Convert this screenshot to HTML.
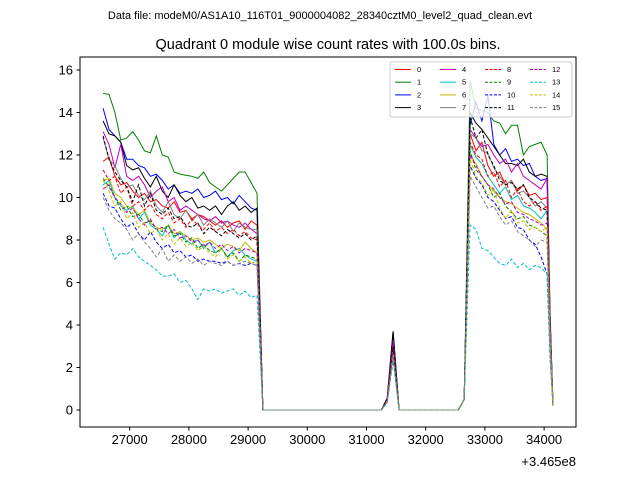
<!DOCTYPE html>
<html><head><meta charset="utf-8"><style>
body{margin:0;background:#fff;}
svg text{font-family:"Liberation Sans","DejaVu Sans",sans-serif;}
</style></head><body>
<svg id="chart" width="640" height="480" viewBox="0 0 640 480" xmlns="http://www.w3.org/2000/svg">
<rect width="640" height="480" fill="#fff"/>
<text x="320" y="19" font-size="11" text-anchor="middle">Data file: modeM0/AS1A10_116T01_9000004082_28340cztM0_level2_quad_clean.evt</text>
<text x="328" y="49" font-size="14.5" text-anchor="middle">Quadrant 0 module wise count rates with 100.0s bins.</text>
<g id="series"></g>
<g id="axes"></g>
<rect x="80" y="57" width="496" height="370" fill="none" stroke="#000" stroke-width="1"/>
<text x="576" y="466" font-size="13" text-anchor="end">+3.465e8</text>
<g id="legend"></g>
</svg>
<script>
const xTicks = [27000,28000,29000,30000,31000,32000,33000,34000];
const yTicks = [0,2,4,6,8,10,12,14,16];
const seg1Start = 26550, seg2Start = 32750, step = 100;
const seg1 = [
[11.7,11.9,11.0,10.6,10.7,10.3,10.0,10.2,9.8,9.9,9.6,9.5,9.8,9.3,9.4,9.0,9.2,9.1,8.9,8.7,8.9,8.6,8.8,8.9,8.5,8.9,8.7],
[14.9,14.85,14.0,12.7,12.8,13.1,12.7,12.2,12.1,12.9,12.0,11.9,11.2,11.1,11.05,11.0,10.9,11.2,10.7,10.5,10.3,10.6,10.9,11.2,11.2,10.7,10.2],
[14.2,13.2,12.9,12.6,11.8,11.8,11.5,11.4,11.0,11.1,10.8,10.4,10.6,10.2,10.3,10.2,10.4,10.0,10.1,10.3,9.9,10.0,9.7,10.1,9.8,9.5,9.4],
[13.6,13.0,12.9,12.6,11.5,11.3,11.4,10.9,10.5,11.0,10.3,10.0,10.6,10.1,9.8,10.0,9.5,9.6,9.4,9.6,9.2,9.6,9.8,9.4,9.6,9.3,9.5],
[13.1,12.5,11.4,12.5,11.0,10.8,11.0,10.6,10.0,10.3,10.5,9.8,10.0,9.4,9.6,9.4,9.2,9.0,8.9,9.1,8.8,8.9,8.7,8.6,8.8,8.5,8.3],
[10.6,10.8,10.0,9.6,9.4,9.6,9.0,9.3,8.7,8.5,8.2,8.7,8.1,8.4,8.0,7.8,8.0,7.6,7.9,7.4,7.6,7.2,7.5,7.6,7.3,7.1,7.0],
[10.8,10.9,10.2,10.0,9.6,9.5,9.2,9.4,8.8,8.6,8.5,8.7,8.3,8.4,8.2,8.0,8.1,7.9,8.0,7.8,7.6,7.8,7.7,7.5,7.9,7.6,7.4],
[12.8,11.8,11.5,10.9,10.5,10.6,10.1,9.9,10.3,9.6,9.3,9.8,9.2,9.0,9.4,8.9,9.2,8.7,9.0,8.8,8.6,8.9,8.4,8.8,8.6,8.5,8.5],
[11.3,10.8,11.0,10.2,10.5,9.6,9.8,9.4,9.7,9.2,9.0,9.3,8.8,9.0,8.6,9.0,8.7,8.5,8.8,8.4,8.6,8.3,8.5,8.2,8.4,8.1,8.0],
[10.9,10.5,10.0,9.4,9.6,9.1,9.2,8.8,8.9,8.5,8.4,8.7,8.2,8.3,7.9,8.1,7.6,7.8,7.5,7.4,7.6,7.2,7.4,7.0,7.3,7.2,7.1],
[10.2,9.6,9.5,9.0,8.6,8.8,8.3,8.0,8.4,7.9,7.6,7.8,7.4,7.5,7.2,7.3,7.0,7.1,7.0,7.0,6.9,7.0,6.8,6.9,6.8,6.9,6.8],
[12.9,11.8,11.2,10.8,10.5,9.8,10.6,9.6,10.2,9.4,9.2,9.5,9.0,9.1,8.7,8.6,8.8,8.3,8.6,8.4,8.2,8.5,8.3,8.1,8.3,8.0,8.2],
[10.4,10.6,10.0,9.7,9.3,9.5,9.0,8.7,9.0,8.5,8.6,8.3,8.5,8.1,8.2,7.9,8.0,7.7,7.9,7.6,7.8,7.5,7.7,7.4,7.6,7.5,7.4],
[8.6,7.8,7.1,7.4,7.3,7.6,7.2,7.0,6.8,6.6,6.3,6.3,6.4,6.0,6.1,5.7,5.2,5.7,5.6,5.7,5.5,5.6,5.7,5.4,5.6,5.3,5.4],
[10.8,10.3,9.6,9.8,9.0,9.3,8.6,8.8,8.3,8.5,8.0,8.3,7.8,8.1,7.7,7.9,7.5,7.7,7.4,7.2,7.6,7.1,7.3,7.0,7.2,6.9,7.0],
[10.0,9.4,9.0,8.8,8.5,8.0,8.3,7.9,7.6,7.2,7.6,7.0,7.3,7.0,7.2,6.9,7.1,6.8,7.0,6.9,6.8,7.0,6.8,6.9,7.0,6.9,6.8]
];
const peaks = [3.0,2.8,3.7,3.7,3.2,2.6,2.8,3.0,3.0,2.8,2.6,3.0,2.7,2.3,2.6,2.5];
const seg2 = [
[13.0,12.2,12.6,11.5,11.0,11.2,10.6,10.8,10.3,10.6,10.1,10.2,9.9,10.0],
[15.5,14.2,14.1,14.0,13.6,13.5,13.0,13.4,13.4,12.0,12.4,12.5,12.6,12.0],
[13.4,14.5,13.6,14.8,12.5,12.0,12.3,11.7,11.8,11.5,11.6,11.0,10.8,10.9],
[14.0,13.5,13.2,12.8,12.4,12.0,11.6,11.6,11.5,11.8,11.2,11.0,11.1,11.0],
[13.2,12.8,12.4,12.5,12.0,11.6,11.8,11.2,11.6,11.0,10.8,10.6,10.4,10.9],
[12.5,11.9,11.6,11.0,10.6,10.2,10.5,9.9,10.1,9.6,9.5,9.3,9.0,9.4],
[12.0,11.6,11.0,10.6,10.3,10.0,9.8,9.7,9.5,9.3,9.2,9.0,8.8,8.5],
[13.0,12.8,12.2,12.1,11.4,11.0,10.6,10.8,10.2,10.3,10.0,9.6,9.8,9.5],
[12.6,12.0,11.8,11.0,11.2,10.5,10.8,10.0,10.4,9.8,9.6,9.8,9.4,9.6],
[12.2,11.3,11.0,10.6,10.0,10.2,9.6,9.3,9.0,9.1,8.7,8.6,8.4,8.2],
[11.5,10.9,10.6,10.0,9.8,9.4,9.0,9.1,8.6,8.5,8.0,7.8,7.2,6.4],
[13.8,12.8,13.2,12.0,11.5,10.8,10.6,10.7,10.4,10.6,10.0,9.8,9.5,9.4],
[12.0,11.5,11.0,10.6,10.4,10.0,9.7,9.8,9.3,9.2,9.0,8.9,8.7,8.8],
[8.7,8.5,7.6,7.5,7.2,6.9,6.8,7.1,6.7,6.9,6.6,6.8,6.7,6.4],
[11.8,11.0,10.7,10.1,10.4,9.5,9.0,9.4,8.8,8.9,8.5,8.6,8.4,8.6],
[11.0,10.5,10.0,9.5,9.6,9.1,8.7,8.9,8.4,8.2,8.0,7.7,8.0,7.9]
];
const colors = ['#ff0000','#008000','#0000ff','#000000','#bf00bf','#00bfbf','#bfbf00','#808080'];
const NS = 'http://www.w3.org/2000/svg';
function xs(t){ return 129.7 + (t - 27000) * 0.05920; }
function ys(v){ return 410 - v * 21.25; }
function mk(tag, attrs, parent){ const e = document.createElementNS(NS, tag); for (const k in attrs) e.setAttribute(k, attrs[k]); parent.appendChild(e); return e; }
const axes = document.getElementById('axes');
xTicks.forEach(t => {
  const l = mk('line', {x1: xs(t), x2: xs(t), y1: 427, y2: 430.5, stroke: '#000'}, axes);
  
  
  const tx = mk('text', {x: xs(t), y: 444, 'font-size': 13, 'text-anchor': 'middle'}, axes);
  tx.textContent = t;
  
  
});
yTicks.forEach(v => {
  const l = mk('line', {x1: 76.5, x2: 80, y1: ys(v), y2: ys(v), stroke: '#000'}, axes);
  
  
  const tx = mk('text', {x: 73, y: ys(v) + 4.5, 'font-size': 13, 'text-anchor': 'end'}, axes);
  tx.textContent = v;
  
  
});
const sg = document.getElementById('series');
for (let i = 0; i < 16; i++) {
  const pts = [];
  seg1[i].forEach((v, k) => pts.push([seg1Start + k * step, v]));
  pts.push([29250, 0], [31250, 0], [31350, peaks[i] * 0.15], [31450, peaks[i]], [31550, 0], [32550, 0], [32650, 0.5]);
  seg2[i].forEach((v, k) => pts.push([seg2Start + k * step, v]));
  const last = seg2[i][seg2[i].length - 1];
  pts.push([34100, last * 0.4], [34150, 0.2]);
  const d = pts.map((p, k) => (k ? 'L' : 'M') + xs(p[0]).toFixed(1) + ' ' + ys(p[1]).toFixed(1)).join(' ');
  const p = mk('path', {d: d, fill: 'none', stroke: colors[i % 8], 'stroke-width': 1}, sg);
  if (i >= 8) p.setAttribute('stroke-dasharray', '3.5 2');
  
  
}
const lg = document.getElementById('legend');
const box = mk('rect', {x: 390, y: 62, width: 182, height: 55, rx: 2, fill: '#fff', 'fill-opacity': 0.8, stroke: '#ccc'}, lg);


for (let i = 0; i < 16; i++) {
  const col = Math.floor(i / 4), row = i % 4;
  const x0 = 395 + col * 45, y0 = 69.5 + row * 12.7;
  const l = mk('line', {x1: x0, x2: x0 + 16, y1: y0, y2: y0, stroke: colors[i % 8], 'stroke-width': 1}, lg);
  if (i >= 8) l.setAttribute('stroke-dasharray', '3 1.5');
  
  
  const t = mk('text', {x: x0 + 22, y: y0 + 2.5, 'font-size': 7.5}, lg);
  t.textContent = i;
  
  
}
</script>
</body></html>
